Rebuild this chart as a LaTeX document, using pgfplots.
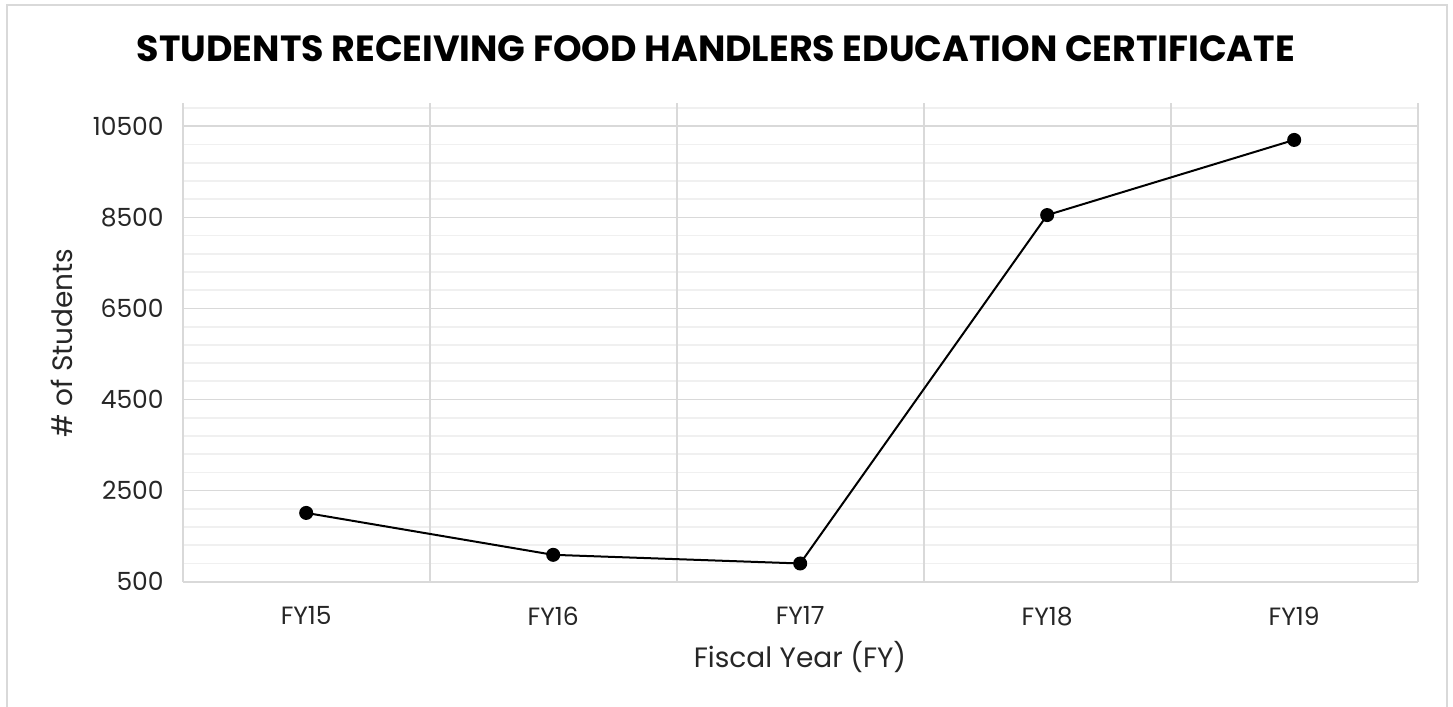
\documentclass[border=0pt]{standalone}
\usepackage{pgfplots}
\pgfplotsset{compat=1.18}
\usepackage{fontspec}
\setmainfont{Poppins}
\definecolor{majgrid}{HTML}{D9D9D9}
\definecolor{mingrid}{HTML}{F0F0F0}
\begin{document}
\begin{tikzpicture}
\useasboundingbox (0,0) rectangle (726.5pt,353.5pt);
\draw[majgrid, line width=0.8pt] (3.5pt,-1pt) -- (3.5pt,351pt) -- (723.5pt,351pt) -- (723.5pt,-1pt);
\node[font=\fontsize{18.2}{18.2}\selectfont\bfseries, anchor=base] at (358pt,322.5pt) {STUDENTS RECEIVING FOOD HANDLERS EDUCATION CERTIFICATE};
\begin{axis}[
  at={(91.35pt,62.65pt)}, anchor=south west,
  scale only axis, width=617.5pt, height=239.1pt,
  xmin=-0.5, xmax=4.5, ymin=500, ymax=11000,
  xtick={0,1,2,3,4},
  xticklabels={FY15,FY16,FY17,FY18,FY19},
  ytick={500,2500,4500,6500,8500,10500},
  minor ytick={900,1300,1700,2100,2900,3300,3700,4100,4900,5300,5700,6100,6900,7300,7700,8100,8900,9300,9700,10100,10900},
  extra x ticks={-0.5,0.5,1.5,2.5,3.5,4.5},
  extra x tick labels={},
  extra x tick style={grid=major},
  major tick length=0pt, minor tick length=0pt,
  ymajorgrids, yminorgrids,
  major grid style={majgrid, line width=0.85pt},
  minor grid style={mingrid, line width=0.85pt},
  axis line style={draw=none},
  scaled y ticks=false,
  /pgf/number format/1000 sep={},
  /pgf/number format/assume math mode=true,
  tick label style={font=\fontsize{12.5}{12.5}\selectfont, text=black!85},
  yticklabel style={xshift=-6pt},
  xticklabel style={yshift=-9pt},
  clip=false,
]
\addplot[black, line width=1pt, mark=*, mark size=3pt, mark options={fill=black}]
  coordinates {(0,2010) (1,1090) (2,900) (3,8550) (4,10200)};
\end{axis}
\node[font=\fontsize{14}{14}\selectfont, anchor=base, text=black!85] at (400pt,19.5pt) {Fiscal Year (FY)};
\node[font=\fontsize{14}{14}\selectfont, rotate=90, text=black!85] at (31pt,182pt) {\# of Students};
\end{tikzpicture}
\end{document}
